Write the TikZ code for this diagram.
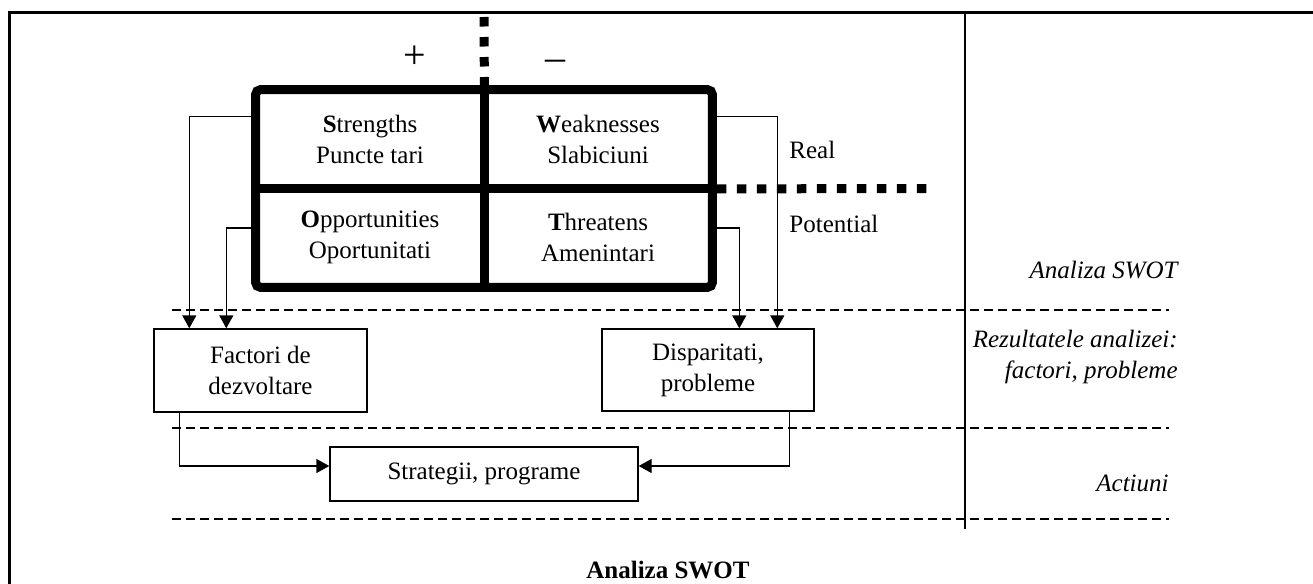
\documentclass[tikz,border=0pt]{standalone}
\usepackage{fontspec}
\setmainfont{Liberation Serif}
\usetikzlibrary{arrows.meta,calc}

\begin{document}
\begin{tikzpicture}[x=0.5pt,y=-0.5pt,
                    every node/.style={font=\fontsize{12.5}{15.5}\selectfont},
                    cell/.style={rectangle,minimum width=114pt,minimum height=49.25pt,
                                 inner sep=0pt,align=center},
                    box/.style={rectangle,draw,line width=0.7pt,inner sep=0pt,
                                align=center},
                    lbl/.style={font=\fontsize{12.5}{15.5}\selectfont\itshape,inner sep=0pt},
                    side/.style={inner sep=0pt,anchor=base west},
                    sign/.style={font=\fontsize{20}{24}\selectfont,anchor=base},
                    arr/.style={-{Triangle[length=6.5pt,width=7pt]},line width=0.7pt},
                    guide/.style={line width=0.7pt,dash pattern=on 4.5pt off 2.5pt},
                    thickdash/.style={line width=4.5pt,dash pattern=on 4.75pt off 5.25pt}]
  \useasboundingbox (0,0) rectangle (1313,584);
  % frame
  \draw[line width=1.5pt] (9.5,584) -- (9.5,12) -- (1313,12);
  \draw[line width=0.7pt] (965,12) -- (965,529);
  \foreach \gy in {310,428,519}
    \draw[guide] (172,\gy) -- (1169,\gy);

  % SWOT grid
  \node[cell] (S) at (370,139.25) {\textbf{S}trengths\\Puncte tari};
  \node[cell] (W) at (598,139.25) {\textbf{W}eaknesses\\Slabiciuni};
  \node[cell] (O) at (370,237.75) {\textbf{O}pportunities\\Oportunitati};
  \node[cell] (T) at (598,237.75) {\textbf{T}hreatens\\Amenintari};
  \draw[line width=4.5pt,rounded corners=2.5pt] (S.north west) rectangle (T.south east);
  \draw[line width=4.5pt] (S.north east) -- (O.south east)
                          (S.south west) -- (W.south east);
  \coordinate (divtop) at (484,17);
  \coordinate (rpend) at (936,188.5);
  \draw[thickdash] (divtop) -- (S.north east);
  \draw[thickdash] ([xshift=2.25pt]W.south east) -- (rpend);
  \node[sign] (plus) at (415,68) {+};
  \node[sign] (minus) at (555,70.5) {–};
  \node[side] (real) at (789,158) {Real};
  \node[side] (pot) at (789,232) {Potential};

  % results and actions
  \node[box,minimum width=106.5pt,minimum height=41.5pt] (F) at (260.5,370.5)
    {Factori de\\dezvoltare};
  \node[box,minimum width=106pt,minimum height=41pt] (D) at (708,370)
    {Disparitati,\\probleme};
  \node[box,minimum width=154pt,minimum height=27pt] (St) at (484,474)
    {Strategii, programe};

  \draw[arr] ([yshift=-13.5pt]S.north west) -| ([xshift=18pt]F.north west);
  \draw[arr] ([yshift=-20pt]O.north west) -| ([xshift=36.5pt]F.north west);
  \draw[arr] ([yshift=-13.5pt]W.north east) -| ([xshift=88pt]D.north west);
  \draw[arr] ([yshift=-20pt]T.north east) -| ([xshift=69pt]D.north west);
  \draw[arr] ([xshift=13pt]F.south west) |- ([yshift=4pt]St.west);
  \draw[arr] ([xshift=-12.5pt]D.south east) |- ([yshift=4pt]St.east);

  % level labels
  \node[lbl,anchor=base east] (swot) at (1178,278) {Analiza SWOT};
  \node[lbl,anchor=east,align=right] (rez) at (1178,357)
    {Rezultatele analizei:\\factori, probleme};
  \node[lbl,anchor=base east] (act) at (1169,491) {Actiuni};
  \node[font=\fontsize{12.5}{15.5}\selectfont\bfseries,anchor=base] (title) at (668,578)
    {Analiza SWOT};
\end{tikzpicture}
\end{document}
